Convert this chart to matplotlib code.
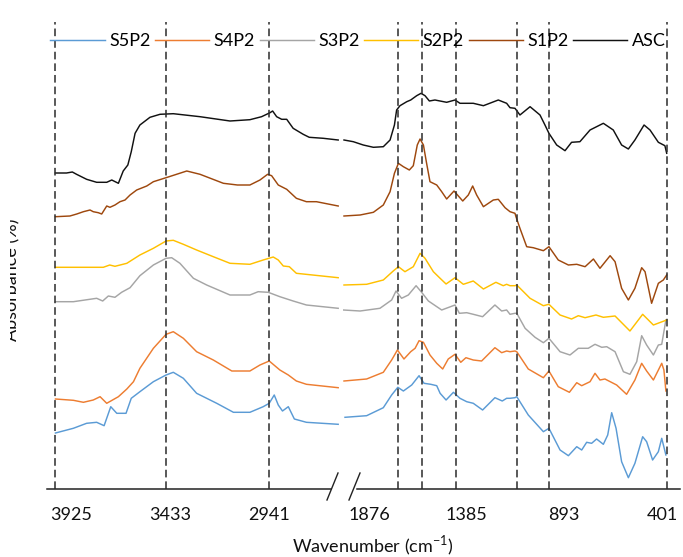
import matplotlib
matplotlib.use("Agg")
import matplotlib.pyplot as plt
from matplotlib.lines import Line2D
from matplotlib.transforms import Bbox, TransformedBbox

plt.rcParams['font.family'] = ['Lato', 'DejaVu Sans']
plt.rcParams['mathtext.fontset'] = 'custom'
plt.rcParams['mathtext.rm'] = 'Lato'

# ---------------- data (wavenumber cm-1, absorbance offset units) ----------------
series_names = ["S5P2", "S4P2", "S3P2", "S2P2", "S1P2", "ASC"]
series_colors = ["#5B9BD5", "#ED7D31", "#A5A5A5", "#FFC000", "#9E480E", "#111111"]

left_ticks = [3925, 3433, 2941]
right_ticks = [1876, 1385, 893, 401]
band_lines_left = [4005, 3455, 2945]
band_lines_right = [1731, 1610, 1439, 1131, 970, 377]

ASC_L = [(4005, 3.16), (3950, 3.16), (3921, 3.17), (3900, 3.147), (3850, 3.097), (3800, 3.067),
         (3750, 3.067), (3725, 3.09), (3692, 3.057), (3668, 3.18), (3645, 3.24), (3628, 3.373),
         (3609, 3.557), (3585, 3.64), (3535, 3.717), (3485, 3.747), (3419, 3.753), (3286, 3.723),
         (3137, 3.68), (3038, 3.693), (2980, 3.723), (2938, 3.763), (2925, 3.78), (2905, 3.723),
         (2880, 3.697), (2855, 3.697), (2823, 3.607), (2773, 3.547), (2743, 3.517), (2673, 3.507),
         (2599, 3.49)]
ASC_R = [(2002, 3.49), (1955, 3.473), (1905, 3.44), (1854, 3.417), (1804, 3.423), (1770, 3.49),
         (1748, 3.64), (1737, 3.79), (1720, 3.833), (1686, 3.873), (1666, 3.89), (1636, 3.933),
         (1614, 3.957), (1594, 3.933), (1572, 3.88), (1544, 3.89), (1485, 3.867), (1443, 3.89),
         (1418, 3.857), (1351, 3.857), (1300, 3.833), (1225, 3.89), (1183, 3.857), (1166, 3.813),
         (1141, 3.807), (1116, 3.74), (1065, 3.823), (1015, 3.74), (990, 3.64), (970, 3.557),
         (931, 3.44), (889, 3.383), (856, 3.467), (814, 3.473), (763, 3.59), (696, 3.657),
         (646, 3.59), (604, 3.44), (570, 3.40), (537, 3.49), (491, 3.64), (461, 3.59),
         (419, 3.467), (386, 3.433), (377, 3.357)]

S1P2_L = [(4005, 2.723), (3933, 2.73), (3899, 2.75), (3866, 2.773), (3833, 2.79), (3817, 2.773),
          (3792, 2.763), (3775, 2.75), (3750, 2.83), (3734, 2.817), (3709, 2.84), (3684, 2.873),
          (3659, 2.89), (3634, 2.94), (3601, 2.99), (3551, 3.03), (3518, 3.073), (3455, 3.113),
          (3352, 3.18), (3286, 3.147), (3170, 3.057), (3100, 3.04), (3038, 3.04), (2988, 3.09),
          (2950, 3.147), (2930, 3.133), (2897, 3.04), (2855, 2.997), (2807, 2.907), (2757, 2.873),
          (2707, 2.873), (2599, 2.83)]
S1P2_R = [(2002, 2.73), (1921, 2.74), (1854, 2.767), (1804, 2.84), (1770, 2.973), (1748, 3.157),
          (1728, 3.257), (1703, 3.223), (1673, 3.19), (1653, 3.233), (1633, 3.44), (1619, 3.50),
          (1602, 3.44), (1586, 3.257), (1569, 3.073), (1535, 3.04), (1510, 2.973), (1485, 2.90),
          (1448, 2.98), (1404, 2.88), (1376, 2.94), (1354, 3.03), (1334, 2.94), (1300, 2.823),
          (1250, 2.89), (1225, 2.897), (1191, 2.813), (1166, 2.773), (1141, 2.757), (1136, 2.723),
          (1116, 2.607), (1082, 2.423), (1049, 2.413), (998, 2.383), (970, 2.423), (923, 2.29),
          (872, 2.24), (830, 2.247), (788, 2.223), (746, 2.30), (713, 2.207), (662, 2.333),
          (637, 2.273), (604, 2.007), (570, 1.89), (537, 2.007), (503, 2.213), (486, 2.173),
          (453, 1.857), (419, 2.057), (394, 2.09), (377, 2.14)]

S2P2_L = [(4005, 2.217), (3767, 2.217), (3735, 2.24), (3709, 2.227), (3650, 2.257), (3585, 2.34),
          (3518, 2.407), (3455, 2.48), (3419, 2.487), (3369, 2.447), (3303, 2.39), (3220, 2.323),
          (3137, 2.257), (3038, 2.247), (2972, 2.29), (2922, 2.32), (2897, 2.29), (2872, 2.23),
          (2842, 2.223), (2807, 2.157), (2599, 2.113)]
S2P2_R = [(2002, 2.04), (1888, 2.047), (1804, 2.09), (1754, 2.18), (1728, 2.223), (1695, 2.173),
          (1653, 2.223), (1619, 2.357), (1594, 2.307), (1552, 2.173), (1518, 2.107), (1488, 2.05),
          (1443, 2.113), (1401, 2.047), (1351, 2.08), (1300, 2.00), (1237, 2.067), (1200, 2.033),
          (1183, 2.047), (1166, 2.033), (1141, 2.033), (1132, 2.04), (1065, 1.907), (998, 1.833),
          (970, 1.847), (914, 1.74), (856, 1.70), (822, 1.733), (788, 1.713), (733, 1.74),
          (696, 1.717), (637, 1.73), (562, 1.58), (498, 1.747), (444, 1.64), (377, 1.69)]

S3P2_L = [(4005, 1.873), (3916, 1.873), (3800, 1.907), (3770, 1.88), (3742, 1.93), (3709, 1.917),
          (3676, 1.967), (3634, 2.013), (3585, 2.133), (3518, 2.24), (3455, 2.307), (3427, 2.313),
          (3386, 2.257), (3319, 2.107), (3253, 2.04), (3137, 1.94), (3038, 1.94), (2997, 1.973),
          (2947, 1.967), (2889, 1.923), (2823, 1.88), (2757, 1.84), (2599, 1.807)]
S3P2_R = [(2005, 1.79), (1921, 1.78), (1821, 1.807), (1762, 1.89), (1740, 1.98), (1712, 1.907),
          (1678, 1.94), (1639, 2.033), (1611, 1.967), (1577, 1.88), (1510, 1.79), (1443, 1.84),
          (1421, 1.757), (1384, 1.763), (1351, 1.747), (1304, 1.723), (1242, 1.84), (1208, 1.78),
          (1183, 1.79), (1166, 1.747), (1141, 1.757), (1132, 1.757), (1090, 1.607), (1040, 1.517),
          (998, 1.463), (970, 1.507), (914, 1.373), (864, 1.34), (822, 1.407), (772, 1.407),
          (738, 1.447), (704, 1.417), (679, 1.423), (637, 1.373), (595, 1.173), (562, 1.147),
          (528, 1.273), (503, 1.533), (478, 1.44), (444, 1.34), (419, 1.44), (402, 1.447),
          (381, 1.69)]

S4P2_L = [(4005, 0.90), (3916, 0.887), (3866, 0.867), (3817, 0.89), (3783, 0.923), (3750, 0.857),
          (3692, 0.923), (3650, 1.0), (3617, 1.073), (3585, 1.207), (3518, 1.407), (3455, 1.547),
          (3419, 1.573), (3369, 1.507), (3303, 1.373), (3220, 1.29), (3128, 1.18), (3038, 1.18),
          (2988, 1.24), (2942, 1.28), (2889, 1.19), (2847, 1.14), (2807, 1.08), (2757, 1.047),
          (2599, 1.013)]
S4P2_R = [(2002, 1.08), (1888, 1.10), (1804, 1.167), (1762, 1.29), (1733, 1.39), (1700, 1.30),
          (1666, 1.373), (1644, 1.407), (1624, 1.483), (1602, 1.467), (1569, 1.34), (1535, 1.257),
          (1505, 1.20), (1477, 1.30), (1443, 1.347), (1414, 1.267), (1388, 1.313), (1351, 1.29),
          (1309, 1.28), (1242, 1.413), (1208, 1.363), (1183, 1.38), (1166, 1.373), (1141, 1.38),
          (1132, 1.373), (1074, 1.20), (998, 1.113), (970, 1.18), (923, 1.023), (867, 0.967),
          (830, 1.063), (805, 1.033), (763, 1.073), (738, 1.157), (713, 1.09), (688, 1.10),
          (629, 1.04), (579, 0.947), (537, 1.09), (503, 1.257), (478, 1.18), (444, 1.09),
          (402, 1.257), (391, 1.19), (381, 0.98)]

S5P2_L = [(4005, 0.56), (3916, 0.607), (3850, 0.657), (3800, 0.667), (3763, 0.633), (3730, 0.823),
          (3700, 0.757), (3654, 0.757), (3628, 0.907), (3585, 0.973), (3518, 1.073), (3455, 1.14),
          (3419, 1.167), (3369, 1.107), (3303, 0.957), (3203, 0.857), (3120, 0.767), (3038, 0.767),
          (2972, 0.823), (2942, 0.857), (2917, 0.94), (2897, 0.84), (2876, 0.78), (2847, 0.823),
          (2817, 0.70), (2757, 0.667), (2599, 0.647)]
S5P2_R = [(1997, 0.717), (1888, 0.733), (1804, 0.813), (1762, 0.94), (1731, 1.017), (1703, 0.98),
          (1661, 1.04), (1624, 1.133), (1599, 1.057), (1565, 1.047), (1535, 1.033), (1518, 0.957),
          (1488, 0.89), (1451, 0.967), (1418, 0.907), (1384, 0.873), (1351, 0.857), (1304, 0.79),
          (1242, 0.913), (1205, 0.88), (1183, 0.907), (1166, 0.907), (1141, 0.913), (1132, 0.923),
          (1074, 0.74), (998, 0.573), (970, 0.607), (914, 0.39), (872, 0.333), (830, 0.423),
          (805, 0.39), (780, 0.467), (755, 0.457), (730, 0.50), (696, 0.447), (674, 0.54),
          (654, 0.763), (632, 0.607), (604, 0.273), (570, 0.113), (537, 0.257), (498, 0.523),
          (478, 0.473), (448, 0.29), (419, 0.373), (402, 0.507), (381, 0.34)]

left_data = [S5P2_L, S4P2_L, S3P2_L, S2P2_L, S1P2_L, ASC_L]
right_data = [S5P2_R, S4P2_R, S3P2_R, S2P2_R, S1P2_R, ASC_R]

# ---------------- figure ----------------
W, H = 683, 557
fig = plt.figure(figsize=(W / 100, H / 100), dpi=100)
axL = fig.add_axes([47 / W, 68 / H, 293 / W, 469 / H])
axR = fig.add_axes([343 / W, 68 / H, 337 / W, 469 / H])

YMAX = 4.69
for ax in (axL, axR):
    ax.set_ylim(0, YMAX)
    ax.set_yticks([])
    for s in ax.spines.values():
        s.set_visible(False)
    ax.tick_params(axis='x', length=0, pad=13, labelsize=13, colors='#111111')
    ax.patch.set_visible(False)

axL.set_xlim(4047, 2590)
axR.set_xlim(2007, 310)
axL.set_xticks(left_ticks)
axL.set_xticklabels([str(t) for t in left_ticks])
axR.set_xticks(right_ticks)
axR.set_xticklabels([str(t) for t in right_ticks])

handles = []
for name, col, dl, dr in zip(series_names, series_colors, left_data, right_data):
    xl, yl = zip(*dl)
    xr, yr = zip(*dr)
    h, = axL.plot(xl, yl, color=col, lw=1.05, label=name, solid_joinstyle='round')
    axR.plot(xr, yr, color=col, lw=1.05, solid_joinstyle='round')
    handles.append(h)

for ax, lines in ((axL, band_lines_left), (axR, band_lines_right)):
    for v in lines:
        ax.plot([v, v], [0, 4.67], color='#2b2b2b', lw=1.1, dashes=(5.0, 2.6), zorder=3)

# axis baselines (broken axis)
axL.plot([0, (331 - 47) / 293], [0, 0], transform=axL.transAxes, color='#222222',
         lw=1.1, clip_on=False)
axR.plot([(357 - 343) / 337, 1.0], [0, 0], transform=axR.transAxes, color='#222222',
         lw=1.1, clip_on=False)
for (x0, y0, x1, y1) in [(327, 500, 338, 473), (349, 500, 360, 473)]:
    fig.add_artist(Line2D([x0 / W, x1 / W], [1 - y0 / H, 1 - y1 / H],
                          transform=fig.transFigure, color='#222222', lw=1.0))

# legend
fig.legend(handles=handles, labels=series_names, loc='center', ncol=6,
           bbox_to_anchor=(358 / W, 1 - 41 / H), frameon=False, fontsize=13,
           handlelength=3.0, handletextpad=0.25, columnspacing=0.25, borderpad=0,
           borderaxespad=0)

# axis titles
fig.text(373 / W, 1 - 546 / H, 'Wavenumber (cm$^{\\mathregular{-1}}$)', ha='center',
         va='center', fontsize=13, color='#111111')
yl = fig.text(12 / W, 1 - 280 / H, 'Absorbance (%)', rotation=90, ha='center',
              va='center', fontsize=13, color='#111111')
yl.set_clip_box(TransformedBbox(Bbox([[10 / W, 0], [1, 1]]), fig.transFigure))
yl.set_clip_on(True)

fig.savefig('out.png', dpi=100)
